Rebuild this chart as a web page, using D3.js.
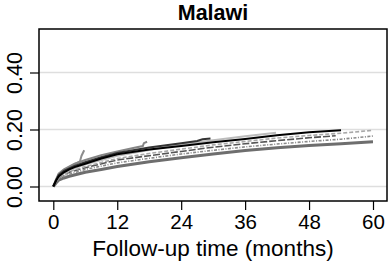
<!DOCTYPE html>
<html>
<head>
<meta charset="utf-8">
<script src="https://cdn.jsdelivr.net/npm/d3@7"></script>
<style>
  body { margin: 0; background: #fff; }
  text { font-family: 'Liberation Sans', Arial, sans-serif; }
</style>
</head>
<body>
<svg id="chart" width="388" height="262"></svg>
<script>
// tick labels
var xTicks = [0, 12, 24, 36, 48, 60];
var yTicks = [0, 0.2, 0.4];

// cumulative incidence curves, [month, value]
var curveA = [[0, 0], [0.5, 0.025], [1, 0.042], [2, 0.058], [3, 0.068], [4, 0.078], [5, 0.088], [5.3, 0.108], [5.8, 0.127]];
var curveB = [[0, 0], [1, 0.045], [2, 0.06], [4, 0.08], [6, 0.093], [9, 0.11], [12, 0.123], [15, 0.135], [16.8, 0.142], [17, 0.152], [17.6, 0.157]];
var curveC = [[0, 0], [1, 0.04], [2, 0.055], [4, 0.072], [6, 0.085], [9, 0.103], [12, 0.118], [18, 0.137], [24, 0.152], [27, 0.16], [28, 0.166], [29.5, 0.168]];
var curveD = [[0, 0], [1, 0.035], [3, 0.058], [6, 0.078], [12, 0.108], [18, 0.128], [24, 0.148], [30, 0.162], [36, 0.176], [41.8, 0.189]];
var curveE = [[0, 0], [0.5, 0.02], [1, 0.035], [2, 0.05], [3, 0.06], [4, 0.068], [6, 0.08], [9, 0.098], [12, 0.113], [18, 0.13], [24, 0.142], [30, 0.155], [36, 0.167], [42, 0.18], [48, 0.19], [54, 0.197]];
var curveF = [[0, 0], [1, 0.033], [3, 0.052], [6, 0.07], [12, 0.098], [18, 0.116], [24, 0.131], [30, 0.146], [36, 0.158], [42, 0.17], [48, 0.179], [54, 0.187], [60, 0.197]];
var curveG = [[0, 0], [1, 0.032], [3, 0.05], [6, 0.066], [12, 0.093], [18, 0.108], [24, 0.123], [30, 0.138], [36, 0.15], [42, 0.161], [48, 0.171], [53, 0.178]];
var curveH = [[0, 0], [1, 0.028], [3, 0.043], [6, 0.06], [12, 0.083], [18, 0.099], [24, 0.114], [30, 0.127], [36, 0.139], [42, 0.149], [48, 0.158], [54, 0.166], [60, 0.177]];
var curveI = [[0, 0], [0.5, 0.012], [1, 0.022], [2, 0.03], [3, 0.036], [6, 0.05], [9, 0.06], [12, 0.07], [18, 0.087], [24, 0.101], [30, 0.114], [36, 0.126], [42, 0.136], [48, 0.144], [54, 0.15], [60, 0.157]];

var curves = [curveI, curveH, curveG, curveF, curveD, curveA, curveB, curveC, curveE];
var curveStyles = [
  { color: '#6e6e6e', width: 3, dash: null },
  { color: '#8a8a8a', width: 1.6, dash: '3,1.5,1,1.5' },
  { color: '#555555', width: 1.6, dash: '7,2' },
  { color: '#a8a8a8', width: 1.6, dash: '4,2' },
  { color: '#bcbcbc', width: 2, dash: null },
  { color: '#8c8c8c', width: 2, dash: null },
  { color: '#858585', width: 2, dash: null },
  { color: '#333333', width: 2, dash: null },
  { color: '#000000', width: 2, dash: null }
];

var svg = d3.select('#chart');
var box = { left: 39, right: 387, top: 29, bottom: 201 };

var x = d3.scaleLinear().domain([0, 60]).range([53.3, 373]);
var y = d3.scaleLinear().domain([0, 0.4]).range([186.5, 72.5]);

// gridlines
svg.selectAll('.grid')
  .data(yTicks)
  .enter().append('line')
  .attr('class', 'grid')
  .attr('x1', box.left)
  .attr('x2', box.right)
  .attr('y1', function(d) { return y(d); })
  .attr('y2', function(d) { return y(d); })
  .attr('stroke', '#dedede')
  .attr('stroke-width', 1.5);

// curves
var line = d3.line()
  .x(function(d) { return x(d[0]); })
  .y(function(d) { return y(d[1]); });

svg.selectAll('.curve')
  .data(curves)
  .enter().append('path')
  .attr('class', 'curve')
  .attr('d', line)
  .attr('fill', 'none')
  .attr('stroke', function(d, i) { return curveStyles[i].color; })
  .attr('stroke-width', function(d, i) { return curveStyles[i].width; })
  .attr('stroke-dasharray', function(d, i) { return curveStyles[i].dash; });

// frame
svg.append('rect')
  .attr('x', box.left)
  .attr('y', box.top)
  .attr('width', box.right - box.left)
  .attr('height', box.bottom - box.top)
  .attr('fill', 'none')
  .attr('stroke', '#000')
  .attr('stroke-width', 1.5);

// x axis
var xAxis = d3.axisBottom(x)
  .tickValues(xTicks)
  .tickSize(9)
  .tickPadding(4)
  .tickSizeOuter(0);

var gx = svg.append('g')
  .attr('transform', 'translate(0, ' + box.bottom + ')')
  .call(xAxis);
gx.select('.domain').remove();
gx.selectAll('line').attr('stroke', '#000').attr('stroke-width', 1.2);
gx.selectAll('text')
  .attr('font-size', 20.5)
  .attr('fill', '#000')
  .attr('font-family', "'Liberation Sans', Arial, sans-serif");

// y axis
var yAxis = d3.axisLeft(y)
  .tickValues(yTicks)
  .tickSize(9)
  .tickFormat(d3.format('.2f'))
  .tickSizeOuter(0);

var gy = svg.append('g')
  .attr('transform', 'translate(' + box.left + ', 0)')
  .call(yAxis);
gy.select('.domain').remove();
gy.selectAll('line').attr('stroke', '#000').attr('stroke-width', 1.2);
gy.selectAll('text')
  .attr('font-size', 21.5)
  .attr('fill', '#000')
  .attr('font-family', "'Liberation Sans', Arial, sans-serif")
  .attr('text-anchor', 'middle')
  .attr('x', 0)
  .attr('dy', 0)
  .attr('transform', 'translate(-17, 0) rotate(-90)');

// title
svg.append('text')
  .attr('x', (box.left + box.right) / 2)
  .attr('y', 20)
  .attr('text-anchor', 'middle')
  .attr('font-size', 21.5)
  .attr('font-weight', 'bold')
  .text('Malawi');

// x label
svg.append('text')
  .attr('x', (box.left + box.right) / 2)
  .attr('y', 256)
  .attr('text-anchor', 'middle')
  .attr('font-size', 22.5)
  .text('Follow-up time (months)');
</script>
</body>
</html>
